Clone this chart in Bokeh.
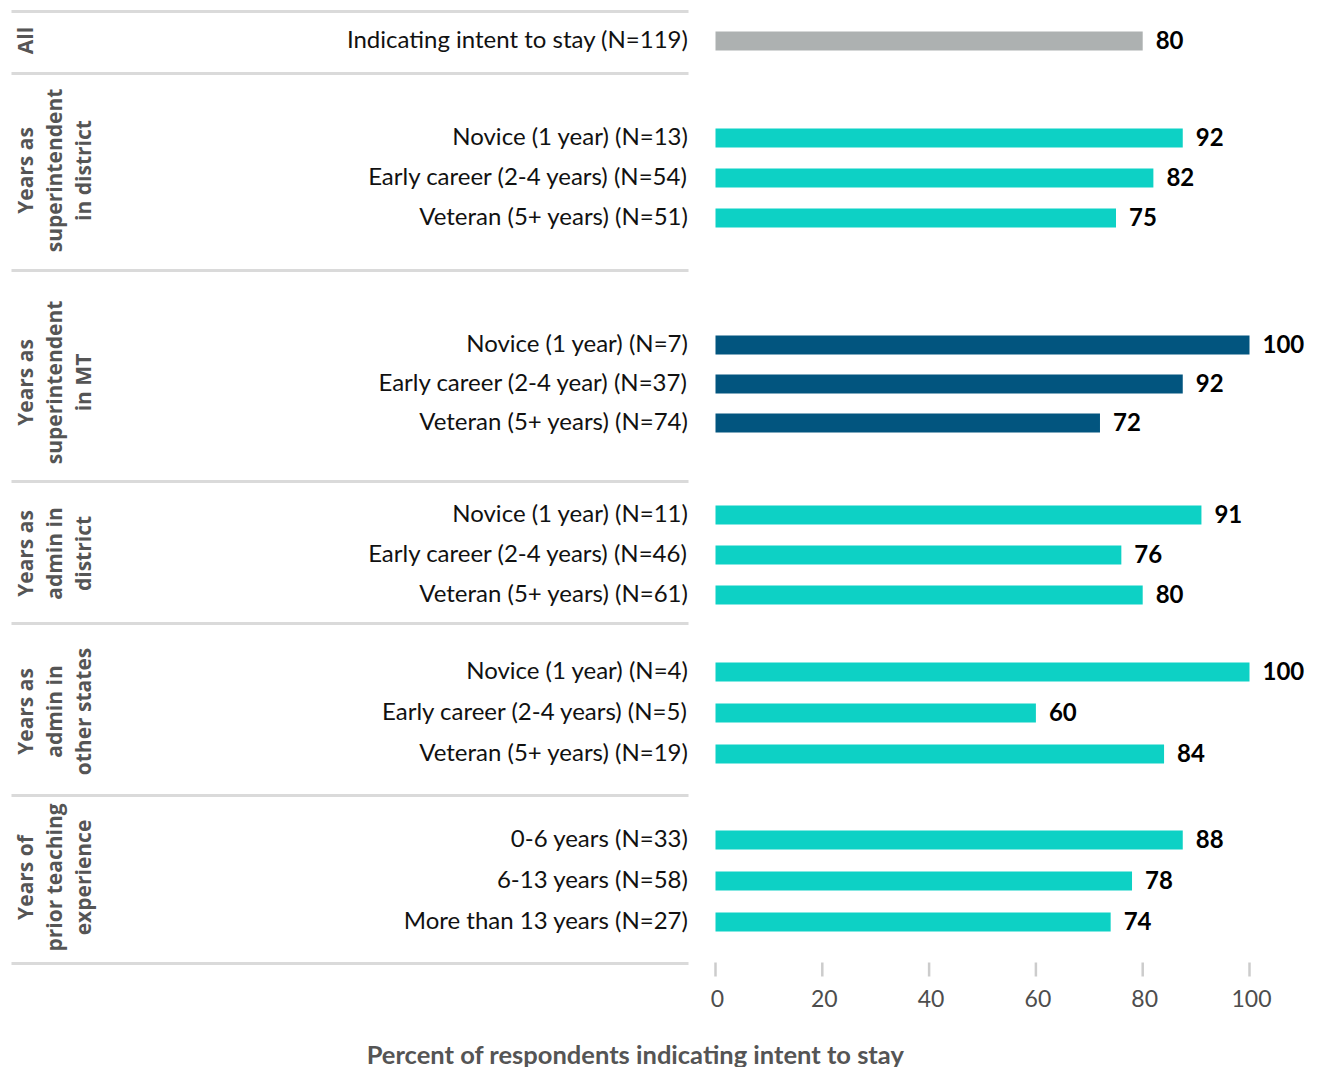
import math
from bokeh.plotting import figure
from bokeh.models import Range1d, ColumnDataSource
from bokeh.core.properties import value
from bokeh.embed import file_html
from bokeh.resources import INLINE

# ---------------- data ----------------
group_titles = [
    ["All"],
    ["Years as", "superintendent", "in district"],
    ["Years as", "superintendent", "in MT"],
    ["Years as", "admin in", "district"],
    ["Years as", "admin in", "other states"],
    ["Years of", "prior teaching", "experience"],
]
row_labels = [
    ["Indicating intent to stay (N=119)"],
    ["Novice (1 year) (N=13)", "Early career (2-4 years) (N=54)", "Veteran (5+ years) (N=51)"],
    ["Novice (1 year) (N=7)", "Early career (2-4 year) (N=37)", "Veteran (5+ years) (N=74)"],
    ["Novice (1 year) (N=11)", "Early career (2-4 years) (N=46)", "Veteran (5+ years) (N=61)"],
    ["Novice (1 year) (N=4)", "Early career (2-4 years) (N=5)", "Veteran (5+ years) (N=19)"],
    ["0-6 years (N=33)", "6-13 years (N=58)", "More than 13 years (N=27)"],
]
# printed value labels
row_values = [
    [80],
    [92, 82, 75],
    [100, 92, 72],
    [91, 76, 80],
    [100, 60, 84],
    [88, 78, 74],
]
# bar lengths as drawn in the picture (the two "92" bars are drawn shorter)
bar_lengths = [
    [80],
    [87.5, 82, 75],
    [100, 87.5, 72],
    [91, 76, 80],
    [100, 60, 84],
    [87.5, 78, 74],
]
ticks = [0, 20, 40, 60, 80, 100]
tick_labels = ["0", "20", "40", "60", "80", "100"]
axis_title = "Percent of respondents indicating intent to stay"

# ---------------- layout / style ----------------
group_colors = ["#adb1b1", "#0dd1c5", "#02557f", "#0dd1c5", "#0dd1c5", "#0dd1c5"]
group_first_y = [40.5, 137.5, 344.5, 514.5, 671.5, 839.5]
group_pitch = [40, 40, 39, 40, 41, 41]
group_title_y = [40, 170, 382, 553, 711, 877]
separators_y = [11, 73, 270, 481, 623, 795, 963]
tick_top, tick_bottom, tick_label_y, title_y = 962, 976, 998, 1053

W, H = 1321, 1067
X0 = 715.0
PX_PER = 5.34


def px2x(px):
    return (px - X0) / PX_PER


ys, bars, cols, labs, vtxt = [], [], [], [], []
for gi in range(len(row_labels)):
    for ri, lab in enumerate(row_labels[gi]):
        ys.append(group_first_y[gi] + ri * group_pitch[gi])
        bars.append(bar_lengths[gi][ri])
        vtxt.append(str(row_values[gi][ri]))
        cols.append(group_colors[gi])
        labs.append(lab)

src = ColumnDataSource(dict(y=ys, v=bars, c=cols, lab=labs, vtxt=vtxt,
                            lx=[px2x(688)] * len(ys)))

p = figure(width=W, height=H,
           x_range=Range1d(px2x(0), px2x(W)),
           y_range=Range1d(H, 0),
           output_backend="svg", toolbar_location=None,
           x_axis_location=None, y_axis_location=None, title=None,
           min_border=0)
p.outline_line_color = None
p.xgrid.visible = False
p.ygrid.visible = False
p.background_fill_color = "white"
p.border_fill_color = "white"

# separators
p.segment(x0=[px2x(11)] * len(separators_y), x1=[px2x(688)] * len(separators_y),
          y0=separators_y, y1=separators_y, line_color="#dadada", line_width=3)

# bars
p.hbar(y="y", left=0, right="v", height=19, fill_color="c", line_color=None, source=src)

# value labels
p.text(x="v", y="y", text="vtxt", x_offset=13, y_offset=-1, text_align="left",
       text_baseline="middle", text_font=value("Lato"), text_font_style="bold",
       text_font_size="24px", text_color="#000000", source=src)

# row labels
p.text(x="lx", y="y", text="lab", text_align="right", text_baseline="middle",
       y_offset=-3, text_font=value("Lato"), text_font_size="24px",
       text_color="#111111", source=src)

# group titles (rotated)
gx, gy, gt = [], [], []
for gi, lines in enumerate(group_titles):
    for li, line in enumerate(lines):
        gx.append(px2x(24 + li * 29))
        gy.append(group_title_y[gi])
        gt.append(line)
p.text(x=gx, y=gy, text=gt, angle=math.pi / 2, text_align="center", text_baseline="middle",
       text_font=value("Open Sans"), text_font_style="bold", text_font_size="21px",
       text_color="#555555")

# x axis (ticks + labels drawn on the value scale)
p.segment(x0=ticks, x1=ticks, y0=[tick_top] * len(ticks), y1=[tick_bottom] * len(ticks),
          line_color="#cccccc", line_width=2.5)
p.text(x=ticks, y=[tick_label_y] * len(ticks), text=tick_labels, x_offset=2,
       text_align="center", text_baseline="middle", text_font=value("Lato"),
       text_font_size="23px", text_color="#4d4d4d")

# axis title
p.text(x=[px2x(635)], y=[title_y], text=[axis_title], text_align="center",
       text_baseline="middle", text_font=value("Lato"), text_font_style="bold",
       text_font_size="25.5px", text_color="#555555")

open("out.html", "w").write(file_html(p, INLINE))
